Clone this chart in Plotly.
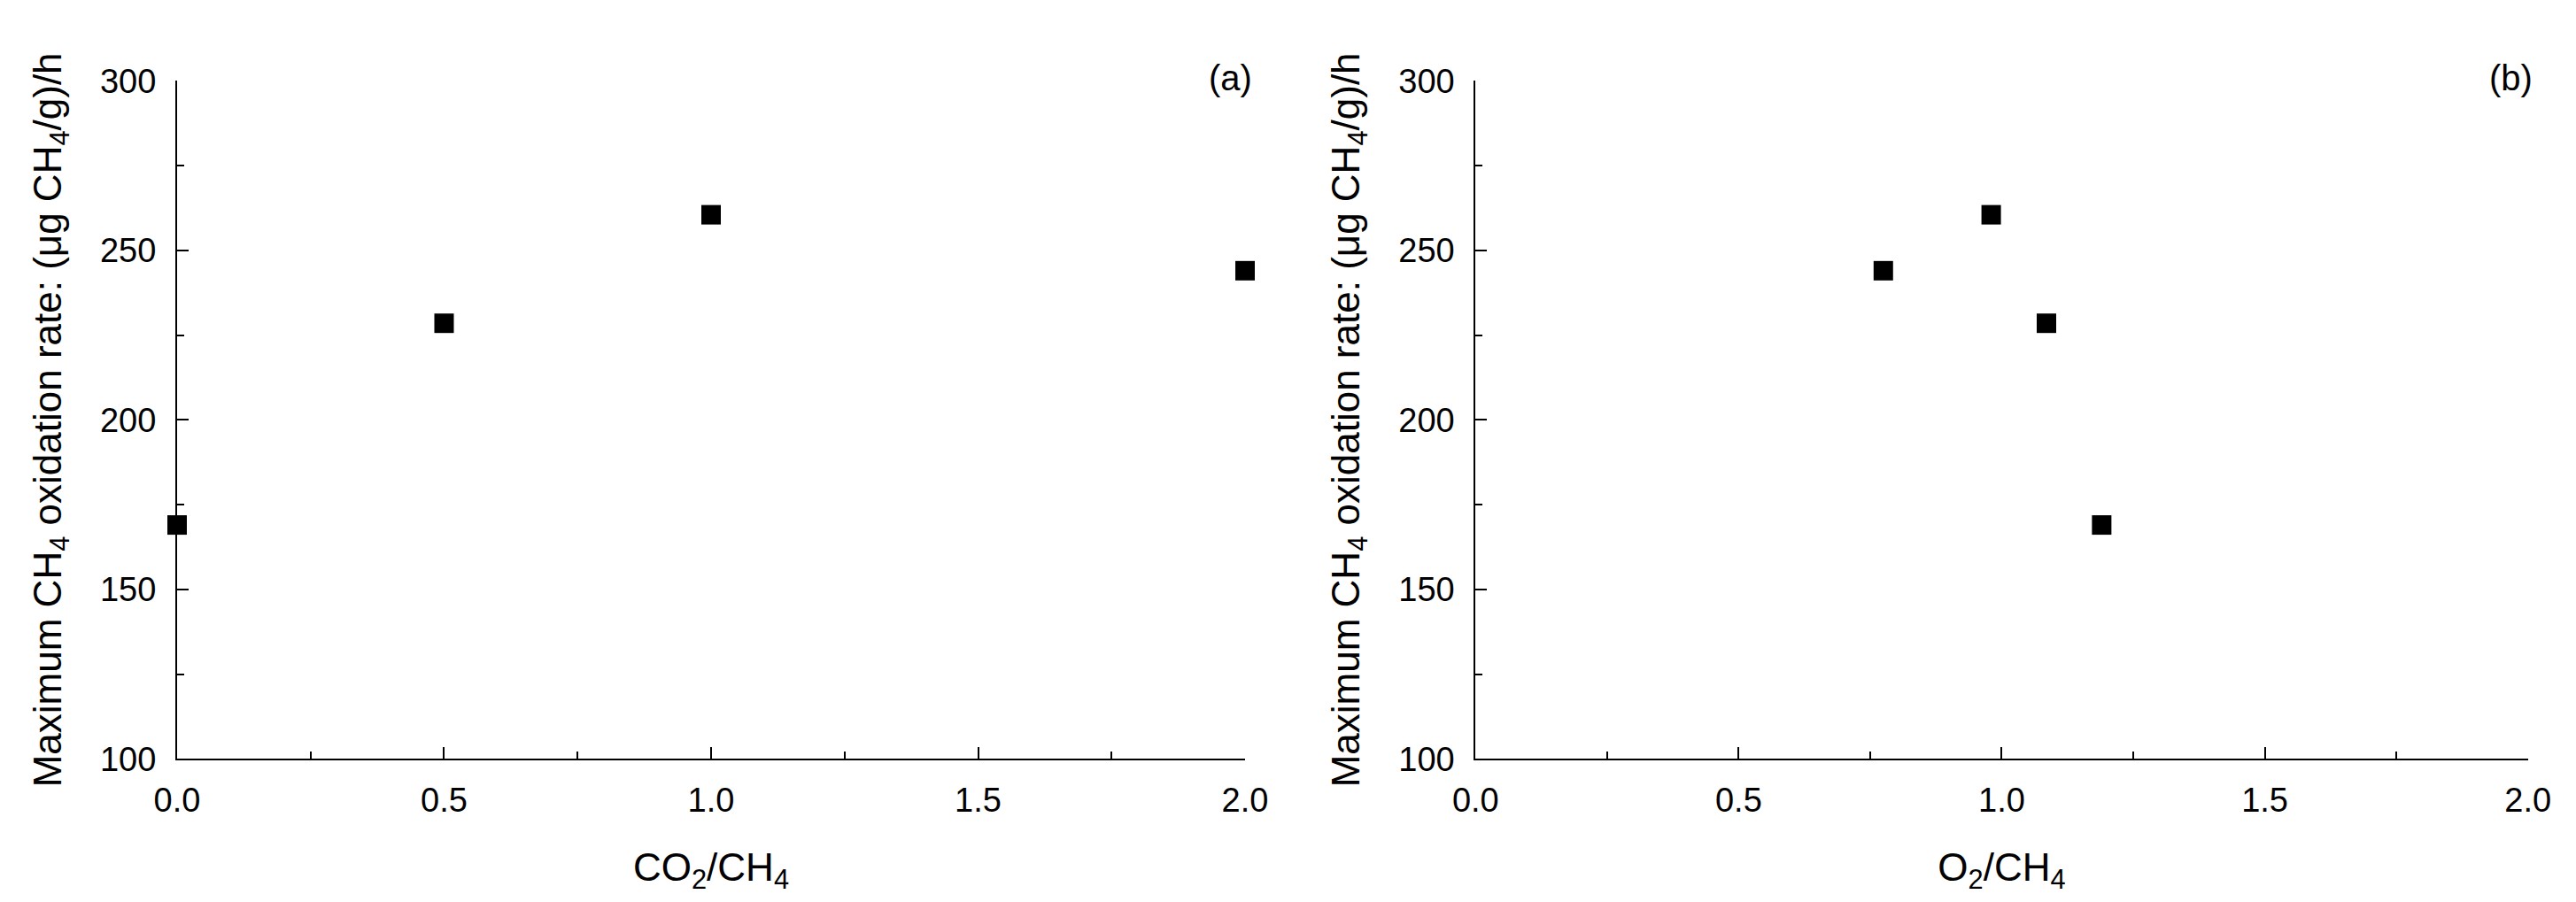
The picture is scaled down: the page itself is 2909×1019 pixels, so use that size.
"""Maximum CH4 oxidation rate vs. gas ratios: two side-by-side scatter panels (a) / (b)."""
import plotly.graph_objects as go

# data
co2_ratio = [0.0, 0.5, 1.0, 2.0]
o2_ratio = [1.19, 1.085, 0.98, 0.775]
max_rate = [169, 228.5, 260.5, 244]

x_ticks = [0.0, 0.5, 1.0, 1.5, 2.0]
y_ticks = [100, 150, 200, 250, 300]

FONT = 'Arial, Liberation Sans, sans-serif'
Y_TITLE = 'Maximum CH<sub>4</sub> oxidation rate: (μg CH<sub>4</sub>/g)/h'

W, H = 2909, 1019


def xaxis(title, dom):
    return dict(
        domain=dom, range=[0, 2], tickvals=x_ticks, tickformat='.1f',
        showline=True, linecolor='black', linewidth=2, mirror=False,
        ticks='inside', ticklen=13, tickwidth=2, tickcolor='black',
        minor=dict(ticks='inside', ticklen=8, tickwidth=2, tickcolor='black', dtick=0.25, showgrid=False),
        showgrid=False, zeroline=False,
        tickfont=dict(size=38, color='black', family=FONT),
        ticklabelstandoff=12,
        title=dict(text=title, font=dict(size=44, color='black', family=FONT), standoff=40),
    )


def yaxis(anchor):
    return dict(
        domain=[(H - 864) / H, (H - 65) / H], range=[100, 300], tickvals=y_ticks,
        anchor=anchor,
        showline=True, linecolor='black', linewidth=2,
        ticks='inside', ticklen=13, tickwidth=2, tickcolor='black',
        minor=dict(ticks='inside', ticklen=8, tickwidth=2, tickcolor='black', dtick=25, showgrid=False),
        showgrid=False, zeroline=False,
        tickfont=dict(size=38, color='black', family=FONT),
        ticklabelstandoff=14,
        title=dict(text=Y_TITLE, font=dict(size=44, color='black', family=FONT), standoff=30),
    )


fig = go.Figure()
fig.add_trace(go.Scatter(
    x=co2_ratio, y=max_rate, mode='markers', xaxis='x', yaxis='y',
    marker=dict(symbol='square', size=22, color='black', line=dict(width=0)),
    cliponaxis=False, showlegend=False,
))
fig.add_trace(go.Scatter(
    x=o2_ratio, y=max_rate, mode='markers', xaxis='x2', yaxis='y2',
    marker=dict(symbol='square', size=22, color='black', line=dict(width=0)),
    cliponaxis=False, showlegend=False,
))

fig.update_layout(
    width=W, height=H,
    paper_bgcolor='white', plot_bgcolor='white',
    margin=dict(l=0, r=0, t=0, b=0),
    font=dict(family=FONT, color='black'),
    xaxis=dict(xaxis('CO<sub>2</sub>/CH<sub>4</sub>', [169 / W, 1397 / W]), anchor='y'),
    yaxis=yaxis('x'),
    xaxis2=dict(xaxis('O<sub>2</sub>/CH<sub>4</sub>', [1662 / W, 2872 / W]), anchor='y2'),
    yaxis2=yaxis('x2'),
    annotations=[
        dict(text='(a)', xref='paper', yref='paper', x=1407 / W, y=1 - 62 / H,
             xanchor='right', yanchor='middle', showarrow=False,
             font=dict(size=40, color='black', family=FONT)),
        dict(text='(b)', xref='paper', yref='paper', x=2879 / W, y=1 - 62 / H,
             xanchor='right', yanchor='middle', showarrow=False,
             font=dict(size=40, color='black', family=FONT)),
    ],
)

fig.write_html('out.html')
